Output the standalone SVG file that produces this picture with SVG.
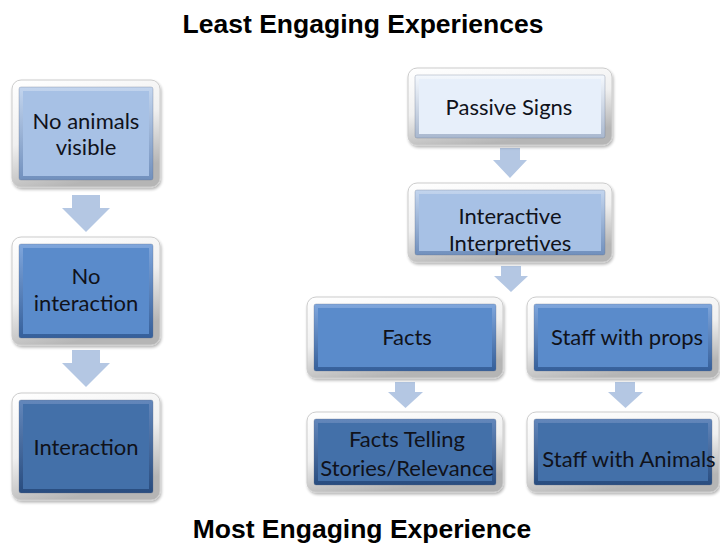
<svg xmlns="http://www.w3.org/2000/svg" width="720" height="548" viewBox="0 0 720 548">
  <defs>
    <!-- glossy white frame around each panel -->
    <linearGradient id="frame" x1="0" y1="0" x2="0.35" y2="1">
      <stop offset="0" stop-color="#ffffff"/>
      <stop offset="0.55" stop-color="#f0f0f0"/>
      <stop offset="1" stop-color="#b5b5b5"/>
    </linearGradient>
    <!-- bevelled rim shading of the coloured panel -->
    <linearGradient id="rimPale" x1="0" y1="0" x2="0" y2="1">
      <stop offset="0" stop-color="#f4f8fd"/>
      <stop offset="1" stop-color="#a9b8cf"/>
    </linearGradient>
    <linearGradient id="rimLight" x1="0" y1="0" x2="0" y2="1">
      <stop offset="0" stop-color="#c3d5ee"/>
      <stop offset="1" stop-color="#7190bd"/>
    </linearGradient>
    <linearGradient id="rimMid" x1="0" y1="0" x2="0" y2="1">
      <stop offset="0" stop-color="#7fa6dc"/>
      <stop offset="1" stop-color="#355f9a"/>
    </linearGradient>
    <linearGradient id="rimDark" x1="0" y1="0" x2="0" y2="1">
      <stop offset="0" stop-color="#6387bb"/>
      <stop offset="1" stop-color="#284c7f"/>
    </linearGradient>
    <filter id="soft" x="-10%" y="-10%" width="120%" height="125%">
      <feGaussianBlur in="SourceAlpha" stdDeviation="1.5"/>
      <feOffset dx="1" dy="2" result="b"/>
      <feComponentTransfer><feFuncA type="linear" slope="0.3"/></feComponentTransfer>
      <feMerge><feMergeNode/><feMergeNode in="SourceGraphic"/></feMerge>
    </filter>
  </defs>
  <style>
    .title { font-family: "Liberation Sans", Arial, sans-serif; font-weight: bold; font-size: 26.5px; fill: #000; text-anchor: middle; }
    .lbl { font-family: Lato, "Open Sans", sans-serif; font-size: 22px; fill: #10121a; text-anchor: middle; }
    .frame { fill: url(#frame); stroke: #cccccc; stroke-width: 1; filter: url(#soft); }
    .pale .rim { fill: url(#rimPale); } .pale .face { fill: #e7effa; }
    .light .rim { fill: url(#rimLight); } .light .face { fill: #a7c1e5; }
    .mid .rim { fill: url(#rimMid); } .mid .face { fill: #5a8bcb; }
    .dark .rim { fill: url(#rimDark); } .dark .face { fill: #4370a9; }
    .rim { stroke: #5d6f88; stroke-width: 0.6; stroke-opacity: 0.5; }
    .arrow { fill: #b4c7e3; }
  </style>

  <text class="title" x="363" y="33">Least Engaging Experiences</text>
  <text class="title" x="362" y="538">Most Engaging Experience</text>

  <!-- block arrows between panels -->
  <g id="connectors">
    <path class="arrow" d="M72,195 H100 V208 H110 L86,232 L62,208 H72 Z"/>
    <path class="arrow" d="M72,350 H100 V363 H110 L86,387 L62,363 H72 Z"/>
    <path class="arrow" d="M500,148 H520 V160 H527 L510,178 L493,160 H500 Z"/>
    <path class="arrow" d="M501,266 H521 V276 H528 L511,292 L494,276 H501 Z"/>
    <path class="arrow" d="M395,382 H415 V392 H423 L405.5,408 L388,392 H395 Z"/>
    <path class="arrow" d="M615,382 H635 V392 H643 L625.5,408 L608,392 H615 Z"/>
  </g>

  <!-- left column -->
  <g id="no-animals" class="light">
    <rect class="frame" x="12" y="80" width="148" height="107" rx="9"/>
    <rect class="rim" x="19" y="87" width="134" height="93" rx="2"/>
    <rect class="face" x="23" y="91" width="126" height="85"/>
    <text class="lbl" x="86" y="129">No animals</text>
    <text class="lbl" x="86" y="155">visible</text>
  </g>
  <g id="no-interaction" class="mid">
    <rect class="frame" x="12" y="237" width="148" height="108" rx="9"/>
    <rect class="rim" x="19" y="244" width="134" height="94" rx="2"/>
    <rect class="face" x="23" y="248" width="126" height="86"/>
    <text class="lbl" x="86" y="284">No</text>
    <text class="lbl" x="86" y="311">interaction</text>
  </g>
  <g id="interaction" class="dark">
    <rect class="frame" x="12" y="393" width="148" height="107" rx="9"/>
    <rect class="rim" x="19" y="400" width="134" height="93" rx="2"/>
    <rect class="face" x="23" y="404" width="126" height="85"/>
    <text class="lbl" x="86" y="455">Interaction</text>
  </g>

  <!-- right column -->
  <g id="passive-signs" class="pale">
    <rect class="frame" x="408" y="68" width="204" height="77" rx="9"/>
    <rect class="rim" x="415" y="75" width="190" height="63" rx="2"/>
    <rect class="face" x="419" y="79" width="182" height="55"/>
    <text class="lbl" x="509" y="115">Passive Signs</text>
  </g>
  <g id="interactive-interpretives" class="light">
    <rect class="frame" x="408" y="183" width="204" height="79" rx="9"/>
    <rect class="rim" x="415" y="190" width="190" height="65" rx="2"/>
    <rect class="face" x="419" y="194" width="182" height="57"/>
    <text class="lbl" x="510" y="224">Interactive</text>
    <text class="lbl" x="510" y="251">Interpretives</text>
  </g>
  <g id="facts" class="mid">
    <rect class="frame" x="307" y="297" width="196" height="81" rx="9"/>
    <rect class="rim" x="314" y="304" width="182" height="67" rx="2"/>
    <rect class="face" x="318" y="308" width="174" height="59"/>
    <text class="lbl" x="407" y="345">Facts</text>
  </g>
  <g id="staff-props" class="mid">
    <rect class="frame" x="527" y="297" width="192" height="81" rx="9"/>
    <rect class="rim" x="534" y="304" width="178" height="67" rx="2"/>
    <rect class="face" x="538" y="308" width="170" height="59"/>
    <text class="lbl" x="627" y="345">Staff with props</text>
  </g>
  <g id="facts-stories" class="dark">
    <rect class="frame" x="307" y="412" width="196" height="80" rx="9"/>
    <rect class="rim" x="314" y="419" width="182" height="66" rx="2"/>
    <rect class="face" x="318" y="423" width="174" height="58"/>
    <text class="lbl" x="407" y="447">Facts Telling</text>
    <text class="lbl" x="407" y="476">Stories/Relevance</text>
  </g>
  <g id="staff-animals" class="dark">
    <rect class="frame" x="527" y="412" width="192" height="80" rx="9"/>
    <rect class="rim" x="534" y="419" width="178" height="66" rx="2"/>
    <rect class="face" x="538" y="423" width="170" height="58"/>
    <text class="lbl" x="629" y="467">Staff with Animals</text>
  </g>
</svg>
